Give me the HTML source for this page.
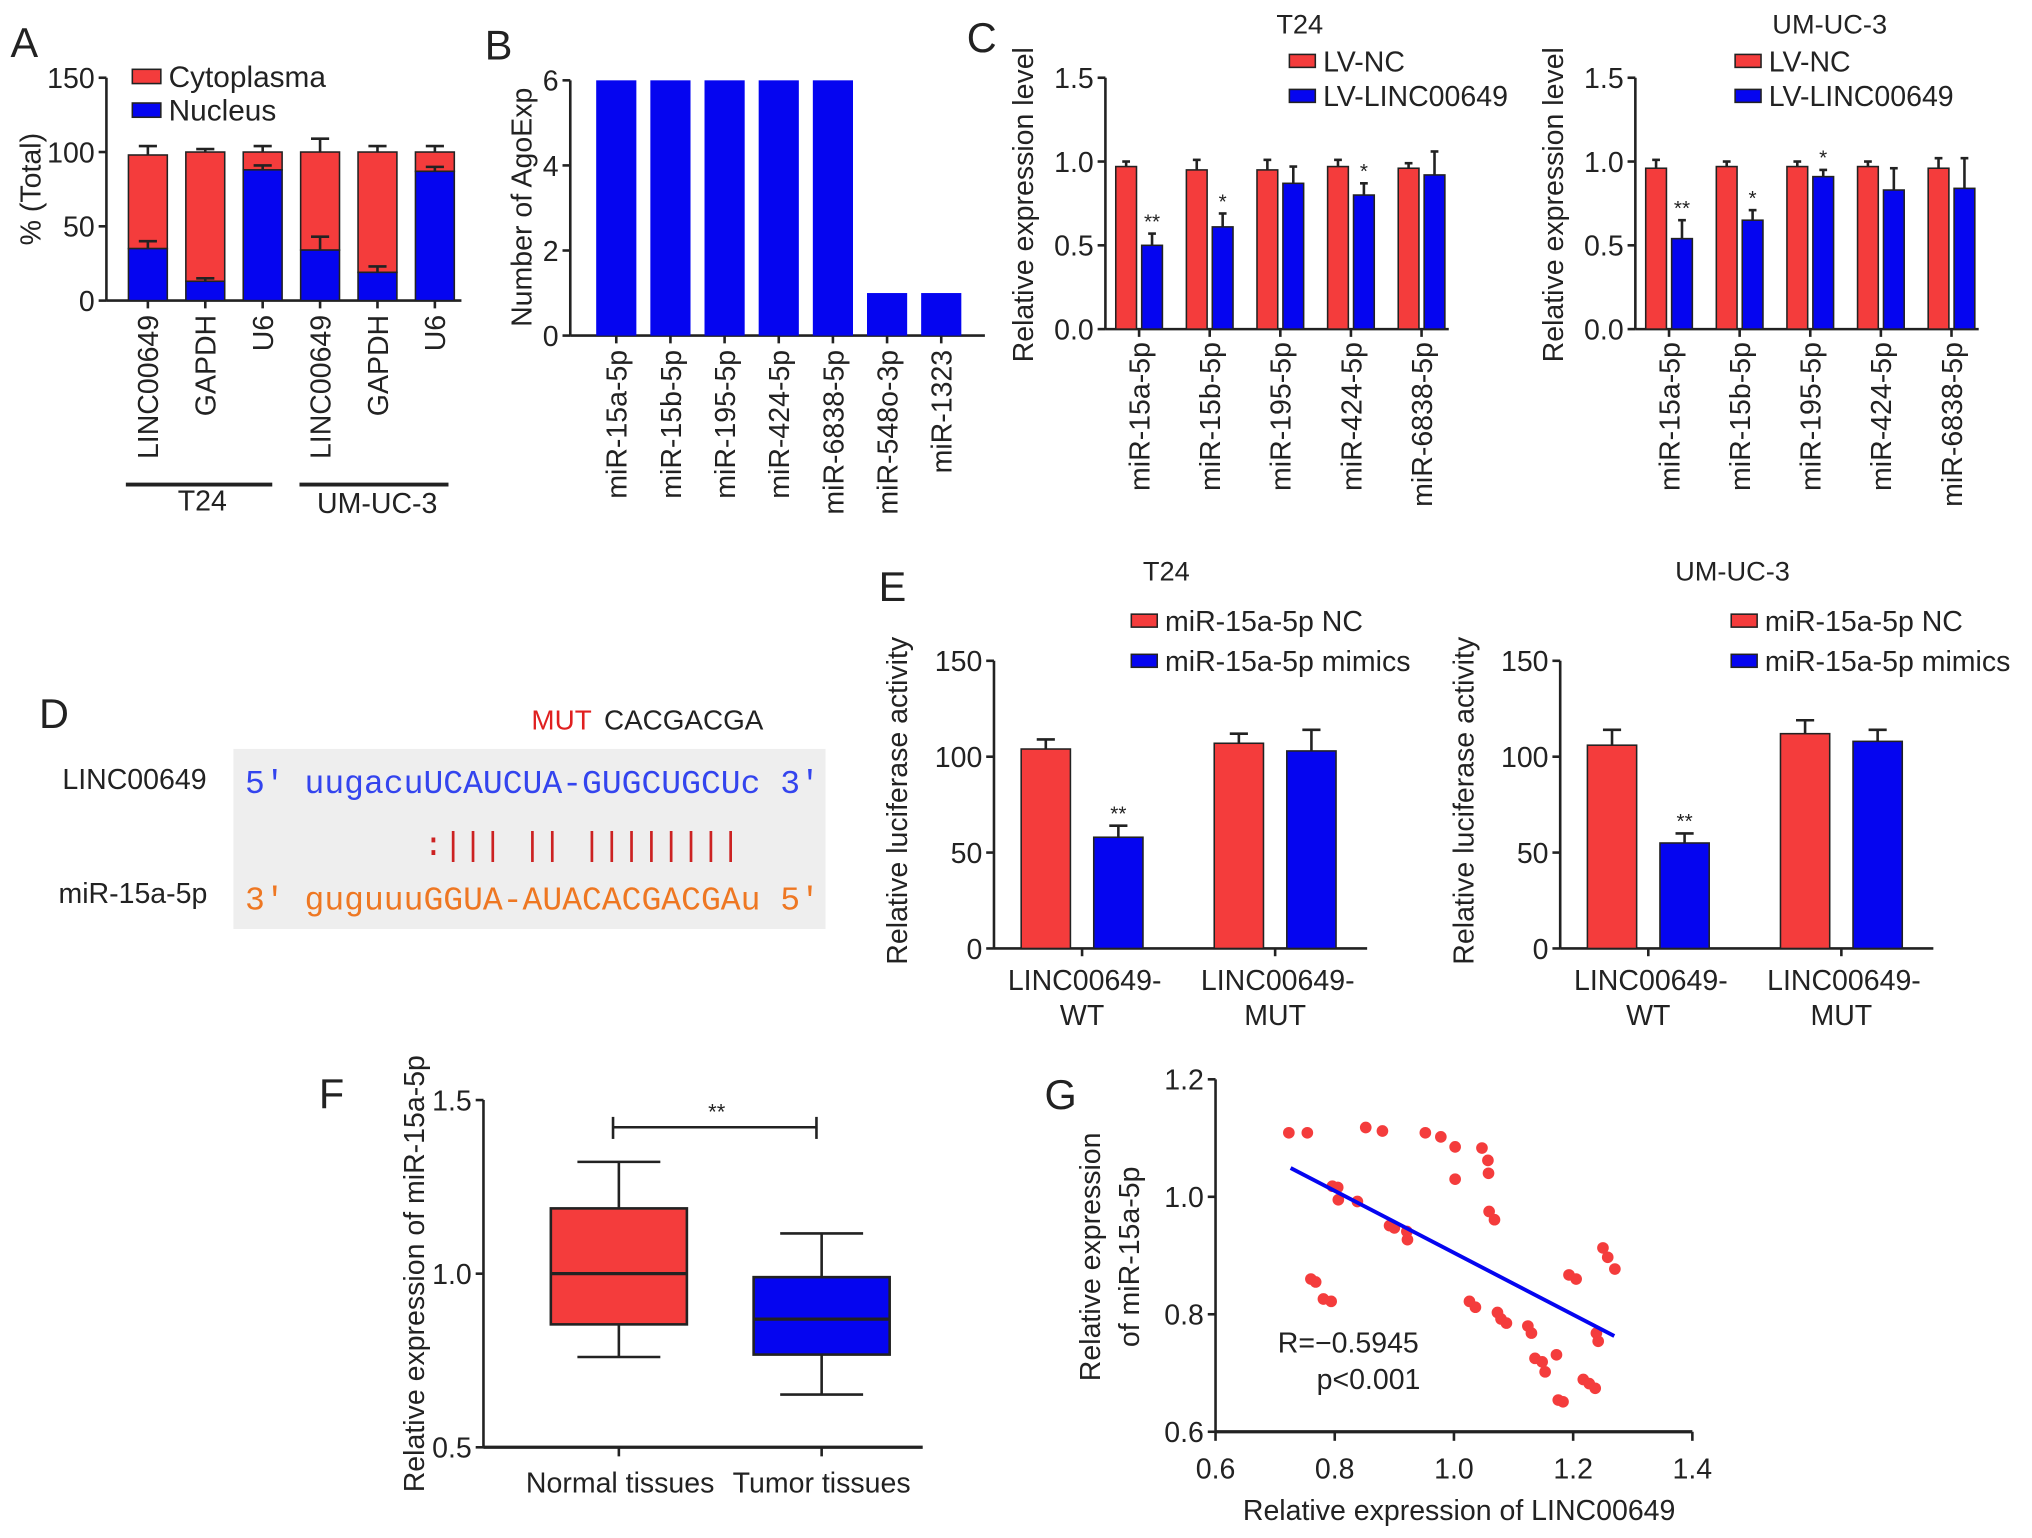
<!DOCTYPE html>
<html><head><meta charset="utf-8"><style>
html,body{margin:0;padding:0;background:#fff;}
svg{display:block;}
text{font-family:"Liberation Sans",sans-serif;fill:#222;}
</style></head><body>
<svg id="fig" width="2032" height="1538" viewBox="0 0 1568 1187" xmlns="http://www.w3.org/2000/svg">
<g font-size="32">
<text x="8" y="44">A</text>
<text x="374" y="46">B</text>
<text x="746" y="40">C</text>
<text x="30" y="562">D</text>
<text x="678" y="464">E</text>
<text x="246" y="855">F</text>
<text x="806" y="856">G</text>
</g>
<!-- Panel D -->
<g>
<rect x="180" y="578" width="457" height="139" fill="#eeeeee"/>
<text x="410" y="563" font-size="21.5" style="fill:#e02020">MUT</text>
<text x="466" y="563" font-size="21.5">CACGACGA</text>
<text x="48" y="609" font-size="22">LINC00649</text>
<text x="45" y="697" font-size="22">miR-15a-5p</text>
<text x="189" y="612" font-size="25.5" xml:space="preserve" style="font-family:'Liberation Mono',monospace;fill:#3344ee">5' uugacuUCAUCUA-GUGCUGCUc 3'</text>
<text x="189" y="660" font-size="25.5" xml:space="preserve" style="font-family:'Liberation Mono',monospace;fill:#cc2222">         :||| || ||||||||</text>
<text x="189" y="702" font-size="25.5" xml:space="preserve" style="font-family:'Liberation Mono',monospace;fill:#ee7722">3' guguuuGGUA-AUACACGACGAu 5'</text>
</g>
<g id="charts"></g>
</svg>
<script>
// ---------- DATA ----------
const aCats = ["LINC00649","GAPDH","U6","LINC00649","GAPDH","U6"];
const aNucleus = [35,13,88,34,19,87];
const aNucleusErr = [5,2,3,9,4,3];
const aTotal = [98,100,100,100,100,100];
const aTotalErr = [6,2,4,9,4,4];
const aTicks = [0,50,100,150];

const bCats = ["miR-15a-5p","miR-15b-5p","miR-195-5p","miR-424-5p","miR-6838-5p","miR-548o-3p","miR-1323"];
const bVals = [6,6,6,6,6,1,1];
const bTicks = [0,2,4,6];

const cCats = ["miR-15a-5p","miR-15b-5p","miR-195-5p","miR-424-5p","miR-6838-5p"];
const cT24NC = [0.97,0.95,0.95,0.97,0.96];
const cT24NCErr = [0.03,0.06,0.06,0.04,0.03];
const cT24LV = [0.50,0.61,0.87,0.80,0.92];
const cT24LVErr = [0.07,0.08,0.1,0.07,0.14];
const cT24Sig = ["**","*","","*",""];
const cUMNC = [0.96,0.97,0.97,0.97,0.96];
const cUMNCErr = [0.05,0.03,0.03,0.03,0.06];
const cUMLV = [0.54,0.65,0.91,0.83,0.84];
const cUMLVErr = [0.11,0.06,0.04,0.13,0.18];
const cUMSig = ["**","*","*","",""];
const cTicks = [0.0,0.5,1.0,1.5];

const eCats = [["LINC00649-","WT"],["LINC00649-","MUT"]];
const eT24NC = [104,107];
const eT24NCErr = [5,5];
const eT24Mim = [58,103];
const eT24MimErr = [6,11];
const eT24Sig = ["**",""];
const eUMNC = [106,112];
const eUMNCErr = [8,7];
const eUMMim = [55,108];
const eUMMimErr = [5,6];
const eUMSig = ["**",""];
const eTicks = [0,50,100,150];

const fCats = ["Normal tissues","Tumor tissues"];
const fMin = [0.76,0.652];
const fQ1 = [0.854,0.767];
const fMed = [1.0,0.869];
const fQ3 = [1.188,0.99];
const fMax = [1.322,1.116];
const fTicks = [0.5,1.0,1.5];

const gX = [0.723,0.754,0.852,0.880,0.952,0.978,1.002,1.047,1.057,1.058,1.002,0.796,0.805,0.806,0.838,0.892,0.900,0.921,0.922,1.059,1.068,0.760,0.768,0.781,0.794,1.026,1.036,1.073,1.079,1.088,1.124,1.130,1.136,1.148,1.153,1.172,1.175,1.183,1.193,1.205,1.217,1.227,1.237,1.239,1.242,1.250,1.258,1.270];
const gY = [1.109,1.109,1.118,1.112,1.109,1.102,1.085,1.083,1.062,1.040,1.030,1.018,1.016,0.995,0.992,0.951,0.947,0.941,0.927,0.975,0.961,0.860,0.855,0.826,0.822,0.822,0.812,0.803,0.792,0.785,0.780,0.768,0.725,0.719,0.702,0.731,0.654,0.651,0.867,0.860,0.689,0.682,0.674,0.768,0.754,0.913,0.897,0.877];
const gFitX = [0.726,1.269];
const gFitY = [1.049,0.763];
const gXTicks = [0.6,0.8,1.0,1.2,1.4];
const gYTicks = [0.6,0.8,1.0,1.2];

// ---------- HELPERS ----------
const NS = "http://www.w3.org/2000/svg";
const root = document.getElementById("charts");
const RED = "#f43c3c", BLUE = "#0505f0";
const FS = 22;
function mk(tag, attrs, parent){
  const e = document.createElementNS(NS, tag);
  for (const k in attrs) e.setAttribute(k, attrs[k]);
  (parent||root).appendChild(e);
  return e;
}
function txt(x,y,s,size,parent,anchor,rot){
  const t = mk("text",{x:x,y:y,"font-size":size,"text-anchor":anchor||"start"},parent);
  if (rot) t.setAttribute("transform","rotate(-90 "+x+" "+y+")");
  t.textContent = s;
  return t;
}
function lin(d0,d1,r0,r1){ return v => r0 + (v-d0)/(d1-d0)*(r1-r0); }
function yAxis(g,x,y,ticks,fmt,size){
  const a = mk("line",{x1:x,y1:y(ticks[ticks.length-1]),x2:x,y2:y(ticks[0]),stroke:"#222","stroke-width":2},g);
  
  
  ticks.forEach(t=>{
    mk("line",{x1:x-6,y1:y(t),x2:x,y2:y(t),stroke:"#222","stroke-width":2},g);
    const l = txt(x-9,y(t)+8,fmt(t),size||FS,g,"end");
    
    
  });
}
function errBar(g,cx,ytop,yerr,cap){
  mk("line",{x1:cx,y1:ytop,x2:cx,y2:yerr,stroke:"#222","stroke-width":2},g);
  mk("line",{x1:cx-cap,y1:yerr,x2:cx+cap,y2:yerr,stroke:"#222","stroke-width":2},g);
}
function bar(g,x,y0,y1,w,fill,name){
  const r = mk("rect",{x:x,y:Math.min(y0,y1),width:w,height:Math.abs(y1-y0),fill:fill,stroke:"#222","stroke-width":1.2},g);
  
  
  return r;
}
function legend(g,x,y,color,label,size,sw,sh){
  const r = mk("rect",{x:x,y:y-sh/2,width:sw,height:sh,fill:color,stroke:"#222","stroke-width":1.2},g);
  
  
  const t = txt(x+sw+6,y+8,label,size,g);
  
  
}

// ---------- PANEL A ----------
(function(){
  const g = mk("g",{});
  
  
  const y = lin(0,150,232,60);
  yAxis(g,82,y,aTicks,v=>String(v),FS);
  mk("line",{x1:82,y1:232,x2:356,y2:232,stroke:"#222","stroke-width":2},g);
  const t = txt(31,146,"% (Total)",FS,g,"middle",true);
  
  
  aCats.forEach((c,i)=>{
    const x0 = 99 + i*44.3, w = 30, cx = x0+w/2;
    errBar(g,cx,y(aTotal[i]),y(aTotal[i]+aTotalErr[i]),7);
    bar(g,x0,y(aNucleus[i]),y(aTotal[i]),w,RED,"bar-cytoplasma");
    errBar(g,cx,y(aNucleus[i]),y(aNucleus[i]+aNucleusErr[i]),7);
    bar(g,x0,y(0),y(aNucleus[i]),w,BLUE,"bar-nucleus");
    mk("line",{x1:cx,y1:232,x2:cx,y2:238,stroke:"#222","stroke-width":2},g);
    const l = txt(cx+8,243,c,FS,g,"end",true);
    
    
  });
  mk("line",{x1:97,y1:374,x2:210,y2:374,stroke:"#222","stroke-width":3},g);
  mk("line",{x1:231,y1:374,x2:346,y2:374,stroke:"#222","stroke-width":3},g);
  const g1 = txt(156,394,"T24",FS,g,"middle");  
  const g2 = txt(291,396,"UM-UC-3",FS,g,"middle");  
  legend(g,102,59,RED,"Cytoplasma",23,22,11);
  legend(g,102,85,BLUE,"Nucleus",23,22,11);
})();

// ---------- PANEL B ----------
(function(){
  const g = mk("g",{});
  
  
  const y = lin(0,6,259,62);
  yAxis(g,440,y,bTicks,v=>String(v),FS);
  mk("line",{x1:440,y1:259,x2:760,y2:259,stroke:"#222","stroke-width":2},g);
  const t = txt(410,160,"Number of AgoExp",FS,g,"middle",true);
  
  
  bCats.forEach((c,i)=>{
    const x0 = 460 + i*41.8, w = 31, cx = x0+w/2;
    const r = mk("rect",{x:x0,y:y(bVals[i]),width:w,height:y(0)-y(bVals[i]),fill:BLUE},g);
    
    
    mk("line",{x1:cx,y1:259,x2:cx,y2:265,stroke:"#222","stroke-width":2},g);
    const l = txt(cx+8,270,c,FS,g,"end",true);
    
    
  });
})();

// ---------- PANEL C ----------
function panelC(ax,title,nc,ncE,lv,lvE,sig,legX,name){
  const g = mk("g",{});
  
  
  const y = lin(0,1.5,254,60);
  yAxis(g,ax,y,cTicks,v=>v.toFixed(1),FS);
  mk("line",{x1:ax,y1:254,x2:ax+265,y2:254,stroke:"#222","stroke-width":2},g);
  const t = txt(ax-56,158,"Relative expression level",FS,g,"middle",true);
  
  
  const tt = txt(ax+150,26,title,21,g,"middle");
  
  
  cCats.forEach((c,i)=>{
    const x0 = ax+8 + i*54.5, w = 16;
    errBar(g,x0+w/2,y(nc[i]),y(nc[i]+ncE[i]),3);
    bar(g,x0,y(0),y(nc[i]),w,RED,"bar-lv-nc");
    errBar(g,x0+20+w/2,y(lv[i]),y(lv[i]+lvE[i]),3);
    bar(g,x0+20,y(0),y(lv[i]),w,BLUE,"bar-lv-linc00649");
    if (sig[i]){
      const s = txt(x0+28,y(lv[i]+lvE[i])-4,sig[i],16,g,"middle");
      
      
    }
    const cx = x0+18;
    mk("line",{x1:cx,y1:254,x2:cx,y2:260,stroke:"#222","stroke-width":2},g);
    const l = txt(cx+8,264,c,FS,g,"end",true);
    
    
  });
  legend(g,legX,47,RED,"LV-NC",FS,20,10);
  legend(g,legX,74,BLUE,"LV-LINC00649",FS,20,10);
}
panelC(853,"T24",cT24NC,cT24NCErr,cT24LV,cT24LVErr,cT24Sig,995,"panel-c-t24-chart");
panelC(1262,"UM-UC-3",cUMNC,cUMNCErr,cUMLV,cUMLVErr,cUMSig,1339,"panel-c-umuc3-chart");

// ---------- PANEL E ----------
function panelE(ax,title,nc,ncE,mm,mmE,sig,legX,name){
  const g = mk("g",{});
  
  
  const y = lin(0,150,732,510);
  yAxis(g,ax,y,eTicks,v=>String(v),FS);
  mk("line",{x1:ax,y1:732,x2:ax+288,y2:732,stroke:"#222","stroke-width":2},g);
  const t = txt(ax-67,618,"Relative luciferase activity",FS,g,"middle",true);
  
  
  const tt = txt(ax+133,448,title,21,g,"middle");
  
  
  eCats.forEach((c,i)=>{
    const x0 = ax+21 + i*149, w = 38;
    errBar(g,x0+w/2,y(nc[i]),y(nc[i]+ncE[i]),7);
    bar(g,x0,y(0),y(nc[i]),w,RED,"bar-mir-nc");
    errBar(g,x0+56+w/2,y(mm[i]),y(mm[i]+mmE[i]),7);
    bar(g,x0+56,y(0),y(mm[i]),w,BLUE,"bar-mir-mimics");
    if (sig[i]){
      const s = txt(x0+56+w/2,y(mm[i]+mmE[i])-4,sig[i],16,g,"middle");
      
      
    }
    const cx = x0+47;
    mk("line",{x1:cx,y1:732,x2:cx,y2:738,stroke:"#222","stroke-width":2},g);
    const l1 = txt(cx+2,764,c[0],FS,g,"middle");
    
    
    const l2 = txt(cx,791,c[1],FS,g,"middle");
    
    
  });
  legend(g,legX,479,RED,"miR-15a-5p NC",FS,20,10);
  legend(g,legX,510,BLUE,"miR-15a-5p mimics",FS,20,10);
}
panelE(767,"T24",eT24NC,eT24NCErr,eT24Mim,eT24MimErr,eT24Sig,873,"panel-e-t24-chart");
panelE(1204,"UM-UC-3",eUMNC,eUMNCErr,eUMMim,eUMMimErr,eUMSig,1336,"panel-e-umuc3-chart");

// ---------- PANEL F ----------
(function(){
  const g = mk("g",{});
  
  
  const y = lin(0.5,1.5,1117,849);
  yAxis(g,373,y,fTicks,v=>v.toFixed(1),FS);
  mk("line",{x1:373,y1:1117,x2:712,y2:1117,stroke:"#222","stroke-width":2.5},g);
  const t = txt(327,983,"Relative expression of miR-15a-5p",FS,g,"middle",true);
  
  
  const colors = [RED,BLUE];
  fCats.forEach((c,i)=>{
    const x0 = 425 + i*156.5, w = 105, cx = x0+w/2;
    mk("line",{x1:cx,y1:y(fMax[i]),x2:cx,y2:y(fMin[i]),stroke:"#222","stroke-width":2},g);
    mk("line",{x1:cx-32,y1:y(fMax[i]),x2:cx+32,y2:y(fMax[i]),stroke:"#222","stroke-width":2},g);
    mk("line",{x1:cx-32,y1:y(fMin[i]),x2:cx+32,y2:y(fMin[i]),stroke:"#222","stroke-width":2},g);
    const r = mk("rect",{x:x0,y:y(fQ3[i]),width:w,height:y(fQ1[i])-y(fQ3[i]),fill:colors[i],stroke:"#222","stroke-width":2},g);
    
    
    mk("line",{x1:x0,y1:y(fMed[i]),x2:x0+w,y2:y(fMed[i]),stroke:"#222","stroke-width":2.5},g);
    mk("line",{x1:cx,y1:1117,x2:cx,y2:1124,stroke:"#222","stroke-width":2},g);
    const l = txt(cx+(i?0:1),1152,c,FS,g,"middle");
    
    
  });
  mk("line",{x1:473,y1:870,x2:630,y2:870,stroke:"#222","stroke-width":2},g);
  mk("line",{x1:473,y1:862,x2:473,y2:879,stroke:"#222","stroke-width":2},g);
  mk("line",{x1:630,y1:862,x2:630,y2:879,stroke:"#222","stroke-width":2},g);
  const s = txt(553,864,"**",17,g,"middle");
  
  
})();

// ---------- PANEL G ----------
(function(){
  const g = mk("g",{});
  
  
  const x = lin(0.6,1.4,938,1306);
  const y = lin(0.6,1.2,1105,833);
  yAxis(g,938,y,gYTicks,v=>v.toFixed(1),FS);
  mk("line",{x1:938,y1:1105,x2:1306,y2:1105,stroke:"#222","stroke-width":2.5},g);
  gXTicks.forEach(t=>{
    mk("line",{x1:x(t),y1:1105,x2:x(t),y2:1112,stroke:"#222","stroke-width":2},g);
    const l = txt(x(t),1141,t.toFixed(1),FS,g,"middle");
    
    
  });
  const xt = txt(1126,1173,"Relative expression of LINC00649",FS,g,"middle");
  
  
  const y1 = txt(849,970,"Relative expression",FS,g,"middle",true);
  
  
  const y2 = txt(879,970,"of miR-15a-5p",FS,g,"middle",true);
  
  
  gX.forEach((v,i)=>{
    const c = mk("circle",{cx:x(v),cy:y(gY[i]),r:4.5,fill:RED},g);
    
    
  });
  const ln = mk("line",{x1:x(gFitX[0]),y1:y(gFitY[0]),x2:x(gFitX[1]),y2:y(gFitY[1]),stroke:BLUE,"stroke-width":3},g);
  
  
  const r = txt(986,1044,"R=\u22120.5945",FS,g);
  
  
  const p = txt(1016,1072,"p<0.001",FS,g);
  
  
})();
</script>
</body></html>
